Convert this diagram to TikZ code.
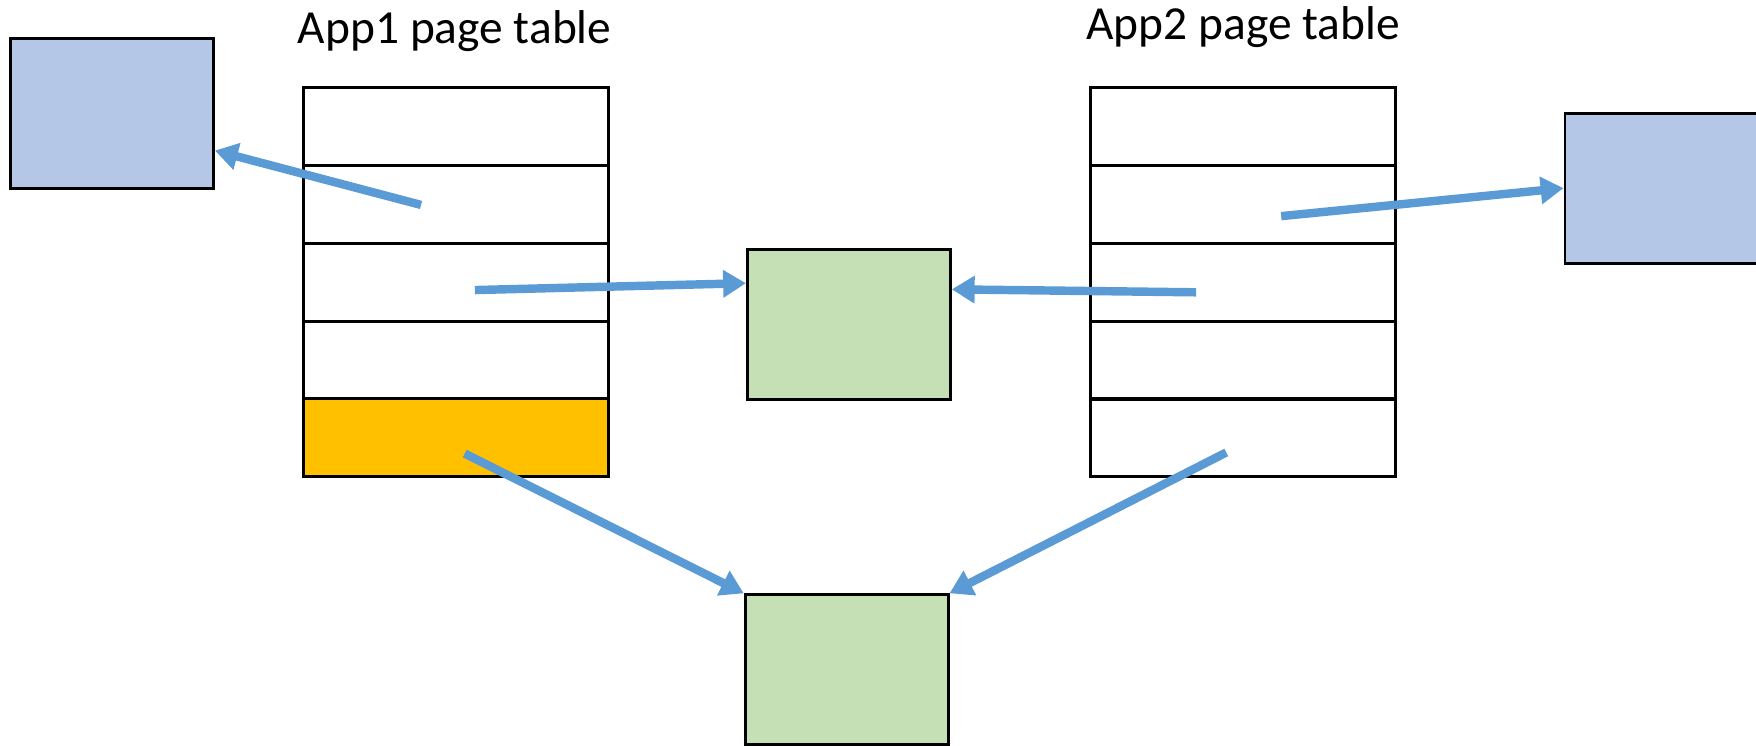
\documentclass[tikz,border=0pt]{standalone}
\usepackage{fontspec}
\setmainfont{Carlito}
\usetikzlibrary{arrows.meta}
\definecolor{pageblue}{HTML}{B4C7E7}
\definecolor{pagegreen}{HTML}{C5E0B4}
\definecolor{pageorange}{HTML}{FFC000}
\definecolor{ptrblue}{HTML}{5B9BD5}
\tikzset{
  tabrow/.style= {draw, line width=0.8pt, minimum width=3.05cm, minimum height=0.78cm, inner sep=0},
  frame/.style= {draw, line width=0.8pt, minimum width=2.03cm, minimum height=1.5cm, inner sep=0},
  ptr/.style= {draw=ptrblue, line width=2.4pt, -{Triangle[length=6.5pt, width=7.5pt]}},
  title/.style= {font=\fontsize{13.5}{16}\selectfont, anchor=base, inner sep=0},
}

\begin{document}
\begin{tikzpicture}[x=0.0112cm, y=-0.0112cm]
  \useasboundingbox (0,0) rectangle (1568,666) ;
  \node [title] (t1) at (406,38.4) {App1 page table} ;
  \node [title] (t2) at (1110,35) {App2 page table} ;

  \node [tabrow] (a1) at (407,113) {} ;
  \node [tabrow] (a2) at (407,183) {} ;
  \node [tabrow] (a3) at (407,252) {} ;
  \node [tabrow] (a4) at (407,322) {} ;
  \node [tabrow, fill=pageorange] (a5) at (407,391) {} ;

  \node [tabrow] (b1) at (1110,113) {} ;
  \node [tabrow] (b2) at (1110,183) {} ;
  \node [tabrow] (b3) at (1110,252) {} ;
  \node [tabrow] (b4) at (1110,322) {} ;
  \node [tabrow] (b5) at (1110,391) {} ;

  \node [frame, fill=pageblue] (lbox) at (100,101) {} ;
  \node [frame, fill=pageblue] (rbox) at (1488,168) {} ;
  \node [frame, fill=pagegreen] (mid) at (758,290) {} ;
  \node [frame, fill=pagegreen] (bot) at (756,598) {} ;

  \coordinate (p1) at (376,183) ;
  \coordinate (p2) at (424,259) ;
  \coordinate (p3) at (1068,261) ;
  \coordinate (p4) at (1144,193) ;
  \coordinate (p5) at (415,405) ;
  \coordinate (p6) at (1095,404) ;

  \draw [ptr] (p1) -- (lbox.-20) ;
  \draw [ptr] (p2) -- (mid.158) ;
  \draw [ptr] (p3) -- (mid.19) ;
  \draw [ptr] (p4) -- (rbox.west) ;
  \draw [ptr] (p5) -- (bot.north west) ;
  \draw [ptr] (p6) -- (bot.north east) ;
\end{tikzpicture}
\end{document}
